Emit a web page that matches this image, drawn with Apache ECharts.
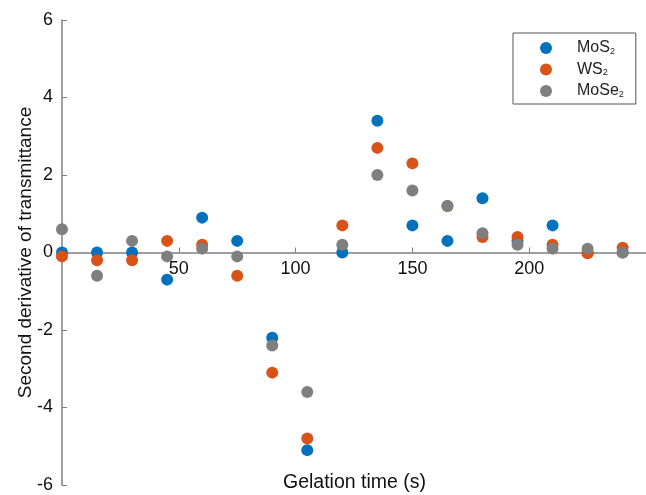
<!DOCTYPE html>
<html>
<head>
<meta charset="utf-8">
<script src="https://cdn.jsdelivr.net/npm/echarts@6/dist/echarts.min.js"></script>
<style>
  html, body { margin: 0; padding: 0; background: #fff; }
  #chart { width: 646px; height: 495px; }
</style>
</head>
<body>
<div id="chart"></div>
<script>
// gelation time (s)
var times = [0, 15, 30, 45, 60, 75, 90, 105, 120, 135, 150, 165, 180, 195, 210, 225, 240];
var mos2 = [0, 0, 0, -0.7, 0.9, 0.3, -2.2, -5.1, 0, 3.4, 0.7, 0.3, 1.4, 0.3, 0.7, 0, 0];
var ws2 = [-0.1, -0.2, -0.2, 0.3, 0.2, -0.6, -3.1, -4.8, 0.7, 2.7, 2.3, 1.2, 0.4, 0.4, 0.2, -0.02, 0.12];
var mose2 = [0.6, -0.6, 0.3, -0.1, 0.1, -0.1, -2.4, -3.6, 0.2, 2.0, 1.6, 1.2, 0.5, 0.2, 0.1, 0.1, 0];

var seriesNames = ["MoS2", "WS2", "MoSe2"];
var seriesColors = ["#0072bd", "#d95319", "#7f7f7f"];
var seriesData = [mos2, ws2, mose2];

function pairs(vals) {
  return vals.map(function (v, i) {
    return [times[i], v];
  });
}

var chart = echarts.init(document.getElementById("chart"));

var axisColor = "#808080";
var font = "Arial, 'Liberation Sans', sans-serif";
var gridTop = 20;
var gridBottom = 10;
var plotH = 495 - gridTop - gridBottom;

chart.setOption({
  animation: false,
  grid: {
    left: 62,
    right: -3,
    top: gridTop,
    bottom: gridBottom,
  },
  legend: {
    orient: "vertical",
    left: 513,
    top: 33,
    padding: [7, 12, 5, 27],
    itemGap: 5.5,
    itemWidth: 12,
    itemHeight: 12,
    borderColor: "#555",
    borderWidth: 1,
    backgroundColor: "#fff",
    icon: "circle",
    data: seriesNames,
    formatter: function (name) {
      var base = name.slice(0, -1);
      return base + "{s|2}";
    },
    textStyle: {
      fontFamily: font,
      fontSize: 16,
      color: "#222",
      padding: [0, 0, 0, 20],
      rich: {
        s: {
          fontSize: 9,
          fontFamily: font,
          color: "#222",
          padding: [7, 0, 0, 0],
        },
      },
    },
  },
  xAxis: {
    type: "value",
    min: 0,
    max: 250,
    interval: 50,
    // move the axis up to y = 0 so labels follow it
    offset: -plotH / 2,
    axisLine: {
      onZero: false,
      lineStyle: { color: axisColor, width: 1.5 },
    },
    axisTick: {
      inside: true,
      length: 5,
      lineStyle: { color: axisColor },
    },
    axisLabel: {
      showMinLabel: false,
      showMaxLabel: false,
      margin: 8,
      fontFamily: font,
      fontSize: 18,
      color: "#111",
    },
    splitLine: { show: false },
  },
  yAxis: {
    type: "value",
    min: -6,
    max: 6,
    interval: 2,
    name: "Second derivative of transmittance",
    nameLocation: "middle",
    nameGap: 27,
    nameMoveOverlap: false,
    nameTextStyle: {
      fontFamily: font,
      fontSize: 19,
      color: "#111",
    },
    axisLine: {
      show: true,
      lineStyle: { color: axisColor, width: 1.5 },
    },
    axisTick: {
      show: true,
      inside: true,
      length: 5,
      lineStyle: { color: axisColor },
    },
    axisLabel: {
      margin: 9,
      fontFamily: font,
      fontSize: 18,
      color: "#111",
    },
    splitLine: { show: false },
  },
  graphic: [
    {
      type: "text",
      left: 283,
      top: 473,
      style: {
        text: "Gelation time (s)",
        font: "19.5px " + font,
        fill: "#111",
      },
    },
  ],
  series: seriesNames.map(function (name, i) {
    return {
      name: name,
      type: "scatter",
      symbol: "circle",
      symbolSize: 12,
      itemStyle: { color: seriesColors[i], opacity: 1 },
      data: pairs(seriesData[i]),
    };
  }),
});
</script>
</body>
</html>
